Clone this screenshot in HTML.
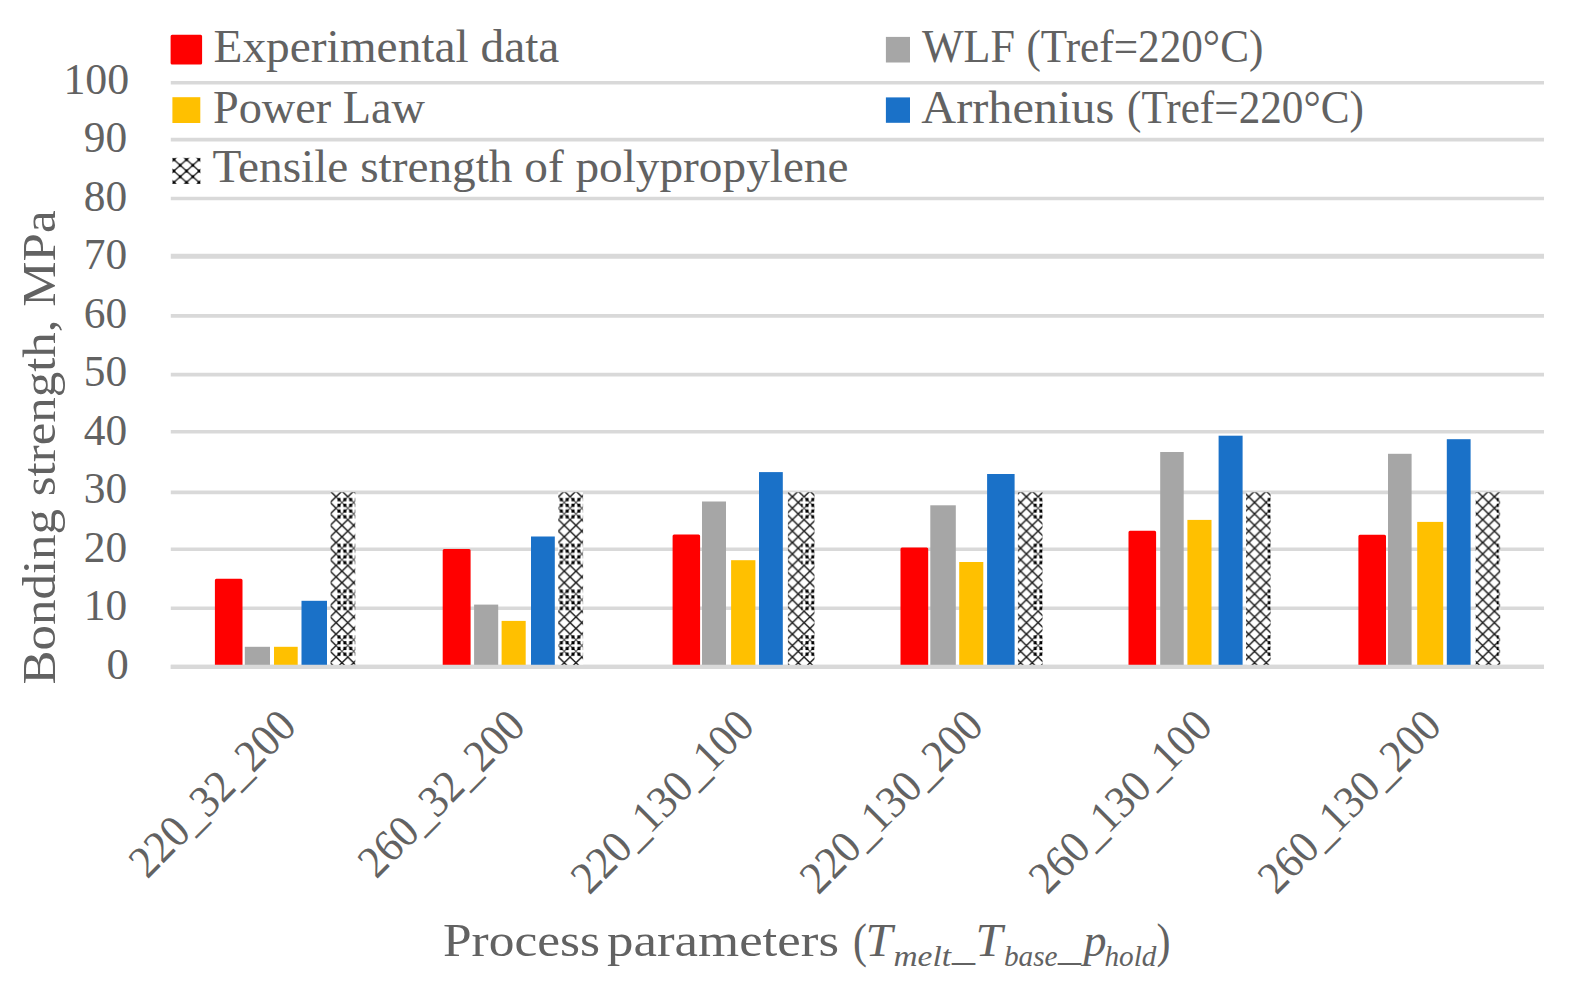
<!DOCTYPE html>
<html lang="en"><head><meta charset="utf-8"><title>Bonding strength chart</title>
<style>
html,body{margin:0;padding:0;background:#fff;}
body{width:1578px;height:989px;overflow:hidden;}
svg{display:block;}
text{font-family:"Liberation Serif", serif;fill:#626262;}
</style></head><body>
<svg width="1578" height="989" viewBox="0 0 1578 989">
<defs>
<pattern id="hatch" patternUnits="userSpaceOnUse" width="11.7" height="45.80" x="336.1" y="359.35">
<rect width="11.7" height="45.80" fill="#fff"/>
<path d="M-1.17,-1.15 L12.87,12.60 M-1.17,12.60 L12.87,-1.15 M-1.17,10.30 L12.87,24.05 M-1.17,24.05 L12.87,10.30" stroke="#555" stroke-width="1.2" fill="none"/>
<path d="M-1.17,21.75 L12.87,35.49 M-1.17,35.49 L12.87,21.75 M-1.17,33.20 L12.87,46.94 M-1.17,46.94 L12.87,33.20" stroke="#1a1a1a" stroke-width="1.5" fill="none"/>
<path d="M1.42,1.36h3.0v3.0h-3.0z M7.27,1.36h3.0v3.0h-3.0z M1.42,7.09h3.0v3.0h-3.0z M7.27,7.09h3.0v3.0h-3.0z M1.42,12.81h3.0v3.0h-3.0z M7.27,12.81h3.0v3.0h-3.0z M1.42,18.54h3.0v3.0h-3.0z M7.27,18.54h3.0v3.0h-3.0z" fill="#000"/>
</pattern>
<pattern id="hatchX" patternUnits="userSpaceOnUse" width="11.7" height="45.80" x="336.1" y="359.35">
<rect width="11.7" height="45.80" fill="#fff"/>
<path d="M-1.17,-1.15 L12.87,12.60 M-1.17,12.60 L12.87,-1.15 M-1.17,10.30 L12.87,24.05 M-1.17,24.05 L12.87,10.30" stroke="#1a1a1a" stroke-width="1.5" fill="none"/>
<path d="M-1.17,21.75 L12.87,35.49 M-1.17,35.49 L12.87,21.75 M-1.17,33.20 L12.87,46.94 M-1.17,46.94 L12.87,33.20" stroke="#1a1a1a" stroke-width="1.5" fill="none"/>
</pattern>
<pattern id="hatchL" patternUnits="userSpaceOnUse" width="12.6" height="11.4" x="173.9" y="159.6">
<rect width="12.6" height="11.4" fill="#fff"/>
<path d="M-1.26,-1.14 L13.86,12.54 M-1.26,12.54 L13.86,-1.14" stroke="#222" stroke-width="1.3" fill="none"/>
<path d="M-1.35,-1.35h2.7v2.7h-2.7z M11.25,-1.35h2.7v2.7h-2.7z M-1.35,10.05h2.7v2.7h-2.7z M11.25,10.05h2.7v2.7h-2.7z M4.95,4.35h2.7v2.7h-2.7z" fill="#000"/>
</pattern>
<clipPath id="plotclip"><rect x="0" y="0" width="1578" height="666"/></clipPath>
</defs>
<rect width="1578" height="989" fill="#fff"/>

<g stroke="#D9D9D9" fill="none">
<line x1="170.8" x2="1544.0" y1="82.7" y2="82.7" stroke-width="3.6"/>
<line x1="170.8" x2="1544.0" y1="139.6" y2="139.6" stroke-width="3.6"/>
<line x1="170.8" x2="1544.0" y1="198.5" y2="198.5" stroke-width="3.6"/>
<line x1="170.8" x2="1544.0" y1="256.2" y2="256.2" stroke-width="5.0"/>
<line x1="170.8" x2="1544.0" y1="315.9" y2="315.9" stroke-width="3.6"/>
<line x1="170.8" x2="1544.0" y1="374.6" y2="374.6" stroke-width="3.6"/>
<line x1="170.8" x2="1544.0" y1="431.7" y2="431.7" stroke-width="3.6"/>
<line x1="170.8" x2="1544.0" y1="492.3" y2="492.3" stroke-width="3.8"/>
<line x1="170.8" x2="1544.0" y1="549.2" y2="549.2" stroke-width="3.6"/>
<line x1="170.8" x2="1544.0" y1="608.2" y2="608.2" stroke-width="3.6"/>
<line x1="170.8" x2="1544.0" y1="666.8" y2="666.8" stroke-width="4.2"/>
</g>
<g clip-path="url(#plotclip)">
<rect x="216.4" y="580.3" width="24.6" height="88.2" fill="#FF0000" stroke="#FF0000" stroke-width="3" stroke-linejoin="round"/>
<rect x="244.8" y="646.8" width="25.2" height="19.2" fill="#A6A6A6"/>
<rect x="274.0" y="646.8" width="23.7" height="19.2" fill="#FFC000"/>
<rect x="301.5" y="600.8" width="25.5" height="65.2" fill="#1A71C8"/>
<rect x="330.6" y="492.3" width="6.4" height="173.7" fill="url(#hatchX)"/>
<rect x="336.5" y="492.3" width="18.8" height="173.7" fill="url(#hatch)"/>
<rect x="444.2" y="550.6" width="24.9" height="117.9" fill="#FF0000" stroke="#FF0000" stroke-width="3" stroke-linejoin="round"/>
<rect x="474.1" y="604.6" width="24.1" height="61.4" fill="#A6A6A6"/>
<rect x="501.6" y="620.9" width="24.1" height="45.1" fill="#FFC000"/>
<rect x="531.0" y="536.5" width="23.8" height="129.5" fill="#1A71C8"/>
<rect x="558.3" y="492.3" width="24.8" height="173.7" fill="url(#hatch)"/>
<rect x="674.1" y="535.9" width="24.5" height="132.6" fill="#FF0000" stroke="#FF0000" stroke-width="3" stroke-linejoin="round"/>
<rect x="702.0" y="501.5" width="24.0" height="164.5" fill="#A6A6A6"/>
<rect x="731.1" y="560.2" width="24.3" height="105.8" fill="#FFC000"/>
<rect x="759.0" y="472.1" width="23.8" height="193.9" fill="#1A71C8"/>
<rect x="787.9" y="492.3" width="13.8" height="173.7" fill="url(#hatchX)"/>
<rect x="801.2" y="492.3" width="13.3" height="173.7" fill="url(#hatch)"/>
<rect x="902.0" y="549.0" width="24.7" height="119.5" fill="#FF0000" stroke="#FF0000" stroke-width="3" stroke-linejoin="round"/>
<rect x="930.3" y="505.3" width="25.5" height="160.7" fill="#A6A6A6"/>
<rect x="959.2" y="562.0" width="24.1" height="104.0" fill="#FFC000"/>
<rect x="987.1" y="474.0" width="27.5" height="192.0" fill="#1A71C8"/>
<rect x="1017.9" y="492.3" width="15.3" height="173.7" fill="url(#hatchX)"/>
<rect x="1032.7" y="492.3" width="9.8" height="173.7" fill="url(#hatch)"/>
<rect x="1130.0" y="532.3" width="24.6" height="136.2" fill="#FF0000" stroke="#FF0000" stroke-width="3" stroke-linejoin="round"/>
<rect x="1160.2" y="452.0" width="23.5" height="214.0" fill="#A6A6A6"/>
<rect x="1187.4" y="519.9" width="24.1" height="146.1" fill="#FFC000"/>
<rect x="1218.6" y="435.7" width="24.0" height="230.3" fill="#1A71C8"/>
<rect x="1246.0" y="492.3" width="21.7" height="173.7" fill="url(#hatchX)"/>
<rect x="1267.2" y="492.3" width="3.4" height="173.7" fill="url(#hatch)"/>
<rect x="1359.9" y="536.2" width="24.6" height="132.3" fill="#FF0000" stroke="#FF0000" stroke-width="3" stroke-linejoin="round"/>
<rect x="1388.0" y="453.8" width="23.6" height="212.2" fill="#A6A6A6"/>
<rect x="1417.2" y="521.9" width="26.0" height="144.1" fill="#FFC000"/>
<rect x="1446.8" y="439.2" width="23.8" height="226.8" fill="#1A71C8"/>
<rect x="1475.7" y="492.3" width="21.6" height="173.7" fill="url(#hatchX)"/>
<rect x="1496.8" y="492.3" width="3.4" height="173.7" fill="url(#hatch)"/>
</g>
<line x1="170.8" x2="1544.0" y1="666.8" y2="666.8" stroke="#D9D9D9" stroke-width="4.2"/>
<rect x="172.1" y="36.2" width="28.5" height="26.9" fill="#FF0000" stroke="#FF0000" stroke-width="3" stroke-linejoin="round"/>
<rect x="172.4" y="97.2" width="27.9" height="25.8" fill="#FFC000"/>
<rect x="172.4" y="157.8" width="28.0" height="26.2" fill="url(#hatchL)"/>
<rect x="885.9" y="36.9" width="24.1" height="25.6" fill="#A6A6A6"/>
<rect x="885.9" y="97.4" width="24.1" height="25.4" fill="#1A71C8"/>
<text x="213.5" y="62.3" font-size="46" textLength="345.9" lengthAdjust="spacingAndGlyphs">Experimental data</text>
<text x="213.0" y="122.8" font-size="46" textLength="212" lengthAdjust="spacingAndGlyphs">Power Law</text>
<text x="212.5" y="181.6" font-size="46" textLength="636" lengthAdjust="spacingAndGlyphs">Tensile strength of polypropylene</text>
<text font-size="46"><tspan x="922.0" y="62.3" textLength="93" lengthAdjust="spacingAndGlyphs">WLF</tspan> <tspan x="1026.4" y="62.3" textLength="237" lengthAdjust="spacingAndGlyphs">(Tref=220°C)</tspan></text>
<text font-size="46"><tspan x="921.3" y="122.6" textLength="193" lengthAdjust="spacingAndGlyphs">Arrhenius</tspan> <tspan x="1127.0" y="122.6" textLength="237" lengthAdjust="spacingAndGlyphs">(Tref=220°C)</tspan></text>
<text x="63.4" y="93.7" font-size="44.2" textLength="65.8" lengthAdjust="spacingAndGlyphs">100</text>
<text x="83.7" y="152.2" font-size="44.2" textLength="43.4" lengthAdjust="spacingAndGlyphs">90</text>
<text x="83.7" y="210.7" font-size="44.2" textLength="43.4" lengthAdjust="spacingAndGlyphs">80</text>
<text x="83.7" y="269.2" font-size="44.2" textLength="43.4" lengthAdjust="spacingAndGlyphs">70</text>
<text x="83.7" y="327.7" font-size="44.2" textLength="43.4" lengthAdjust="spacingAndGlyphs">60</text>
<text x="83.7" y="386.2" font-size="44.2" textLength="43.4" lengthAdjust="spacingAndGlyphs">50</text>
<text x="83.7" y="444.7" font-size="44.2" textLength="43.4" lengthAdjust="spacingAndGlyphs">40</text>
<text x="83.7" y="503.2" font-size="44.2" textLength="43.4" lengthAdjust="spacingAndGlyphs">30</text>
<text x="83.7" y="561.7" font-size="44.2" textLength="43.4" lengthAdjust="spacingAndGlyphs">20</text>
<text x="83.7" y="620.2" font-size="44.2" textLength="43.4" lengthAdjust="spacingAndGlyphs">10</text>
<text x="106.6" y="678.7" font-size="44.2" textLength="22.3" lengthAdjust="spacingAndGlyphs">0</text>
<text transform="translate(54.7,684.5) rotate(-90)" font-size="46" textLength="474" lengthAdjust="spacingAndGlyphs">Bonding strength, MPa</text>
<text transform="translate(298.5,728.4) rotate(-45)" text-anchor="end" font-size="45.5" textLength="214" lengthAdjust="spacingAndGlyphs">220_32_200</text>
<text transform="translate(527.5,728.4) rotate(-45)" text-anchor="end" font-size="45.5" textLength="214" lengthAdjust="spacingAndGlyphs">260_32_200</text>
<text transform="translate(756.5,728.4) rotate(-45)" text-anchor="end" font-size="45.5" textLength="236.6" lengthAdjust="spacingAndGlyphs">220_130_100</text>
<text transform="translate(985.5,728.4) rotate(-45)" text-anchor="end" font-size="45.5" textLength="236.6" lengthAdjust="spacingAndGlyphs">220_130_200</text>
<text transform="translate(1214.5,728.4) rotate(-45)" text-anchor="end" font-size="45.5" textLength="236.6" lengthAdjust="spacingAndGlyphs">260_130_100</text>
<text transform="translate(1443.5,728.4) rotate(-45)" text-anchor="end" font-size="45.5" textLength="236.6" lengthAdjust="spacingAndGlyphs">260_130_200</text>
<text font-size="46"><tspan x="443.0" y="956.3" textLength="157" lengthAdjust="spacingAndGlyphs">Process</tspan> <tspan x="607.0" y="956.3" textLength="232" lengthAdjust="spacingAndGlyphs">parameters</tspan> <tspan x="853" y="957.3" font-size="49" textLength="14" lengthAdjust="spacingAndGlyphs">(</tspan><tspan x="865.5" y="956.3" textLength="27" lengthAdjust="spacingAndGlyphs" font-style="italic">T</tspan><tspan x="893.5" y="965.6" font-size="30" textLength="57.5" lengthAdjust="spacingAndGlyphs" font-style="italic">melt</tspan><tspan x="952" y="959.6" font-size="38" textLength="23" lengthAdjust="spacingAndGlyphs">_</tspan><tspan x="975.5" y="956.3" textLength="27" lengthAdjust="spacingAndGlyphs" font-style="italic">T</tspan><tspan x="1004" y="965.6" font-size="30" textLength="53.5" lengthAdjust="spacingAndGlyphs" font-style="italic">base</tspan><tspan x="1058" y="959.6" font-size="38" textLength="23" lengthAdjust="spacingAndGlyphs">_</tspan><tspan x="1083.5" y="956.3" textLength="23" lengthAdjust="spacingAndGlyphs" font-style="italic">p</tspan><tspan x="1104.5" y="965.6" font-size="30" textLength="52" lengthAdjust="spacingAndGlyphs" font-style="italic">hold</tspan><tspan x="1156.5" y="957.3" font-size="49" textLength="14" lengthAdjust="spacingAndGlyphs">)</tspan></text>
</svg></body></html>
